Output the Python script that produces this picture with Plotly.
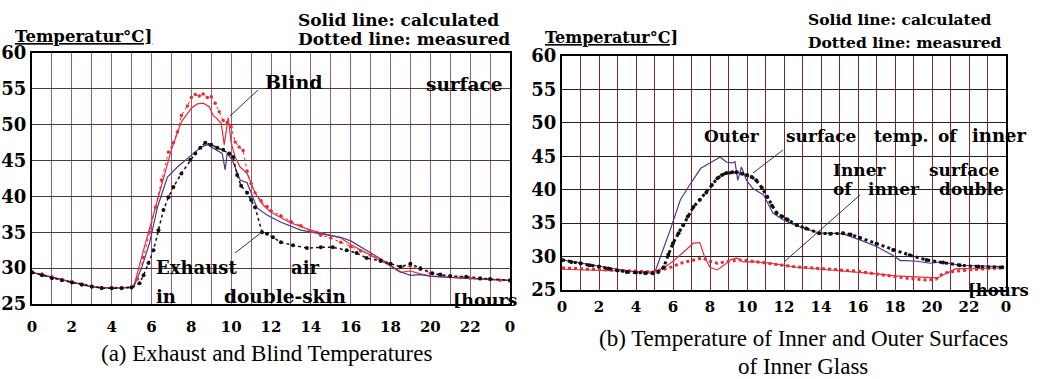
import plotly.graph_objects as go

W, H = 1048, 379

# ---------------- data: panel (a) ----------------
blind_meas_h = [0,0.5,1,1.5,2,2.5,3,3.5,4,4.5,5,5.3,5.6,5.9,6.2,6.5,6.85,7.1,7.3,7.5,7.8,8.0,8.2,8.4,8.6,8.8,9.0,9.2,9.4,9.6,9.8,10.0,10.2,10.4,10.6,10.8,11.0,11.2,11.5,11.8,12,12.5,13,13.5,14,14.5,15,15.5,16,16.5,17,17.5,18,18.5,19,19.5,20,20.5,21,21.5,22,22.5,23,23.5,24]
blind_meas   = [29.5,29.2,28.8,28.4,28.1,27.8,27.5,27.3,27.3,27.3,27.4,28.5,31.5,35,38.5,42.3,46.2,47.5,49,51.3,52.6,53.8,54.2,54.0,54.3,53.8,53.9,53.0,51.8,50.6,50.3,49.7,47.6,46.9,46.4,43.5,41.8,40.5,39.4,38.6,38.0,37.3,36.5,35.9,35.1,34.6,34.2,33.6,33.0,32.4,31.8,31.2,30.6,30.1,30.3,29.8,29.3,29.0,28.8,28.7,28.6,28.5,28.4,28.3,28.2]

blind_calc_h = [0,1,2,3,4,5,5.1,5.5,6,6.5,7,7.5,8,8.3,8.6,8.9,9.1,9.3,9.5,9.65,9.75,9.85,10.0,10.2,10.45,10.8,11.2,11.6,12,13,14,14.5,15,15.5,16,17,18,18.5,19,19.5,20,21,22,23,24]
blind_calc   = [29.4,28.7,28.0,27.4,27.2,27.2,27.3,31.5,36.5,41.5,46.5,50.4,52.3,52.9,53.0,52.5,51.3,50.8,50.2,47.2,49.0,51.0,47.5,45.5,44.1,43.2,40.5,38.8,37.8,36.3,35.3,34.9,34.5,34.2,33.3,31.8,30.3,29.4,29.6,29.2,28.9,28.7,28.6,28.4,28.3]

exh_meas_h = [0,0.5,1,1.5,2,2.5,3,3.5,4,4.5,5,5.4,5.6,5.85,6.1,6.35,6.6,6.85,7.1,7.5,7.95,8.2,8.45,8.7,9.0,9.3,9.6,9.9,10.1,10.3,10.5,10.8,11.0,11.2,11.55,11.8,12.1,12.5,13.1,13.8,14.5,15.1,15.8,16.3,16.8,17.5,18.0,18.5,19.0,19.5,20.1,20.5,21,21.8,22.5,23,24]
exh_meas   = [29.4,29.0,28.6,28.3,28.0,27.7,27.4,27.2,27.2,27.2,27.3,27.9,29.0,30.7,32.5,35.3,38.1,39.9,41.3,43.2,45.1,46.0,46.8,47.5,47.2,46.8,46.5,46.0,45.5,43.0,41.5,40.5,39.5,38.5,35.0,34.8,34.3,33.6,33.2,32.8,32.9,32.9,32.5,32.1,31.4,31.0,30.6,30.2,30.6,30.0,29.3,29.1,28.9,28.8,28.6,28.5,28.3]

exh_calc_h = [0,1,2,3,4,5,5.1,5.5,5.9,6.3,6.8,7.3,7.9,8.45,8.8,9.2,9.55,9.7,9.8,10.05,10.45,10.8,11.3,11.8,12.5,13.5,14.5,15.1,15.5,16,16.8,17.5,18,18.5,19,19.5,20,21,22,23,24]
exh_calc   = [29.4,28.7,28.0,27.4,27.2,27.2,27.3,30.0,33.5,38.5,42.7,44.1,45.5,46.8,47.2,46.6,46.0,43.7,46.0,45.1,42.3,41.9,38.4,37.4,36.4,35.3,34.8,34.4,34.3,33.8,32.5,31.3,30.4,29.5,29.0,29.1,28.9,28.7,28.6,28.4,28.3]

# ---------------- data: panel (b) ----------------
outer_calc_h = [0,1,2,3,4,4.9,5.0,5.85,6.4,6.9,7.5,8.0,8.55,8.9,9.2,9.35,9.5,9.7,9.98,10.3,10.9,11.4,11.95,12.5,13.2,13.9,14.5,15.2,16.1,17,17.8,18.3,18.6,19.2,19.9,20.5,21.5,22.5,23.8]
outer_calc   = [29.5,29.0,28.6,28.1,27.7,27.5,27.5,34,38.5,40.7,43.2,44.0,44.9,44.1,44.0,44.2,41.4,43.4,41.4,40.2,39.2,36.5,35.5,34.8,34.1,33.5,33.5,33.4,32.5,31.5,30.3,29.4,29.4,29.3,29.0,29.2,28.7,28.6,28.5]

outer_meas_h = [0,0.5,1,1.5,2,2.5,3,3.5,4,4.5,4.9,5.2,5.5,5.75,6.0,6.3,6.55,6.8,7.1,7.45,7.8,8.1,8.4,8.65,8.9,9.2,9.45,9.75,10,10.25,10.5,10.8,11.1,11.35,11.6,11.9,12.2,12.7,13.2,13.9,14.5,15.2,15.6,16.1,17,17.9,18.8,19.7,20.6,21.5,22.5,23.8]
outer_meas   = [29.5,29.2,29.0,28.7,28.5,28.2,27.9,27.7,27.6,27.5,27.5,27.7,28.4,30.3,32.0,33.5,34.7,36.0,37.4,38.5,39.6,40.7,41.7,42.2,42.5,42.6,42.6,42.4,42.2,41.9,41.4,40.3,38.9,37.6,36.5,36.0,35.5,34.7,34.2,33.5,33.4,33.5,33.3,32.8,31.9,31.0,30.2,29.5,29.1,28.7,28.5,28.4]

inner_calc_h = [0,1,2,3,4,4.9,5.5,6.0,6.5,7.1,7.45,7.7,8.0,8.4,8.8,9.1,9.45,9.8,10.5,11,12,12.7,14,15,16,17,18,19,19.9,20.3,20.8,21.3,22,23,23.8]
inner_calc   = [28.1,28.0,27.9,27.8,27.7,27.7,28.3,29.3,30.5,32.0,32.1,30.0,28.4,28.0,28.8,29.5,29.8,29.2,29.2,29.1,28.7,28.4,28.1,27.9,27.7,27.4,27.1,27.0,26.9,26.8,27.5,28.2,28.2,28.3,28.3]

inner_meas_h = [0,1,2,3,4,4.9,5.5,6.0,6.4,7.0,7.6,8.0,8.4,8.8,9.2,9.6,10.0,10.5,11,11.5,12,12.5,13,14,15,16,17,17.9,18.5,19.2,19.7,20.2,20.6,21.2,22,23,23.8]
inner_meas   = [28.3,28.2,28.0,27.9,27.8,27.7,28.1,28.5,29.0,29.4,29.8,29.3,29.0,29.2,29.4,29.5,29.4,29.2,29.0,28.8,28.7,28.5,28.4,28.2,28.0,27.8,27.4,27.0,26.8,26.6,26.5,26.6,27.5,27.8,28.0,28.2,28.3]

hour_ticks = list(range(0, 25, 2))
hour_labels = ["0","2","4","6","8","10","12","14","16","18","20","22","0"]
temp_ticks = [25, 30, 35, 40, 45, 50, 55, 60]

# ---------------- figure ----------------
def px(x): return x / W
def py(y): return 1 - y / H

RED = "#e0303a"
PURP = "#4a3a8a"
BLK = "#111111"
SERIF = "Liberation Serif"
BSERIF = "DejaVu Serif"

fig = go.Figure()
# panel (a)
fig.add_trace(go.Scatter(x=blind_calc_h, y=blind_calc, mode="lines",
                         line=dict(color=RED, width=1.2), xaxis="x", yaxis="y"))
fig.add_trace(go.Scatter(x=exh_calc_h, y=exh_calc, mode="lines",
                         line=dict(color=PURP, width=1.2), xaxis="x", yaxis="y"))
fig.add_trace(go.Scatter(x=blind_meas_h, y=blind_meas, mode="lines+markers",
                         line=dict(color=RED, width=1, dash="dot"),
                         marker=dict(color=RED, size=3.5), xaxis="x", yaxis="y"))
fig.add_trace(go.Scatter(x=exh_meas_h, y=exh_meas, mode="lines+markers",
                         line=dict(color=BLK, width=1.5, dash="dot"),
                         marker=dict(color=BLK, size=4), xaxis="x", yaxis="y"))
# panel (b)
fig.add_trace(go.Scatter(x=outer_calc_h, y=outer_calc, mode="lines",
                         line=dict(color=PURP, width=1.2), xaxis="x2", yaxis="y2"))
fig.add_trace(go.Scatter(x=inner_calc_h, y=inner_calc, mode="lines",
                         line=dict(color=RED, width=1.2), xaxis="x2", yaxis="y2"))
fig.add_trace(go.Scatter(x=inner_meas_h, y=inner_meas, mode="lines",
                         line=dict(color=RED, width=3, dash="dot"), xaxis="x2", yaxis="y2"))
fig.add_trace(go.Scatter(x=outer_meas_h, y=outer_meas, mode="lines+markers",
                         line=dict(color=BLK, width=3, dash="dot"),
                         marker=dict(color=BLK, size=4), xaxis="x2", yaxis="y2"))

def xax(domain, vcolor, labels, size):
    return dict(domain=domain, range=[0, 24], tickvals=hour_ticks,
                ticktext=["<b>%s</b>" % s for s in labels],
                showgrid=True, gridcolor=vcolor, gridwidth=1,
                minor=dict(dtick=1, showgrid=True, gridcolor=vcolor, gridwidth=1),
                showline=True, mirror=True, linecolor="black", linewidth=2,
                zeroline=False, ticks="", automargin=False,
                tickfont=dict(family=BSERIF, size=size, color="black"))

def yax(domain, hcolor, anchor):
    return dict(domain=domain, range=[25, 60], tickvals=temp_ticks,
                ticktext=["<b>%d</b>" % t for t in temp_ticks],
                showgrid=True, gridcolor=hcolor, gridwidth=1.2,
                showline=True, mirror=True, linecolor="black", linewidth=2,
                zeroline=False, ticks="", anchor=anchor, automargin=False,
                ticklabelstandoff=0,
                tickfont=dict(family=BSERIF, size=18, color="black"))

fig.update_layout(
    width=W, height=H, margin=dict(l=0, r=0, t=0, b=0),
    paper_bgcolor="white", plot_bgcolor="white", showlegend=False,
    xaxis=xax([px(32), px(510)], "#9a5a7a", hour_labels, 15) | dict(anchor="y", ticklabelstandoff=8),
    yaxis=yax([py(304), py(53)], "#4a3f30", "x"),
    xaxis2=xax([px(562), px(1006)], "#7a2a2a", hour_labels, 15) | dict(anchor="y2", ticklabelstandoff=2),
    yaxis2=yax([py(290), py(56)], "#222222", "x2"),
)

def txt(x, y, s, size=20, anchor="left", bold=True):
    fig.add_annotation(x=px(x), y=py(y), xref="paper", yref="paper",
                       text=("<b>%s</b>" % s) if bold else s,
                       showarrow=False, xanchor=anchor, yanchor="middle",
                       font=dict(family=BSERIF if bold else SERIF, size=size, color="black"))

def seg(x0, y0, x1, y1):
    fig.add_shape(type="line", xref="paper", yref="paper",
                  x0=px(x0), y0=py(y0), x1=px(x1), y1=py(y1),
                  line=dict(color="#333333", width=1))

# panel (a) texts
txt(296, 20, "Solid line: calculated", 17)
txt(296, 39, "Dotted line: measured", 17)
txt(13, 36, "<u>Temperatur°C]</u>", 16.5)
txt(263, 82, "Blind", 19)
txt(424, 84, "surface", 18.5)
txt(154, 267, "Exhaust", 18)
txt(289, 267, "air", 18)
txt(154, 296, "in", 18)
txt(222, 296, "double-skin", 18.5)
txt(451, 300, "[hours", 17.5)
seg(230, 116, 258, 90)
seg(235, 253, 262, 232)

# panel (b) texts
txt(806, 20, "Solid line: calculated", 15.5)
txt(806, 42, "Dotted line: measured", 15.5)
txt(543, 38, "<u>Temperatur°C]</u>", 16)
txt(702, 136, "Outer", 17)
txt(784, 136, "surface", 17)
txt(872, 136, "temp.", 17)
txt(936, 136, "of", 17)
txt(970, 136, "inner", 18)
txt(831, 170, "Inner", 17)
txt(927, 170, "surface", 17)
txt(831, 189, "of", 17)
txt(866, 189, "inner", 17)
txt(937, 189, "double", 17)
txt(966, 290, "[hours", 16.5)
seg(753, 173, 783, 150)
seg(784, 262, 860, 195)

# captions
txt(266, 353, "(a) Exhaust and Blind Temperatures", 23, "center", False)
txt(803, 338, "(b) Temperature of Inner and Outer Surfaces", 23, "center", False)
txt(803, 366, "of Inner Glass", 23, "center", False)

fig.write_html("out.html", config={"displayModeBar": False},
               post_script="document.body.style.margin='0px';")
